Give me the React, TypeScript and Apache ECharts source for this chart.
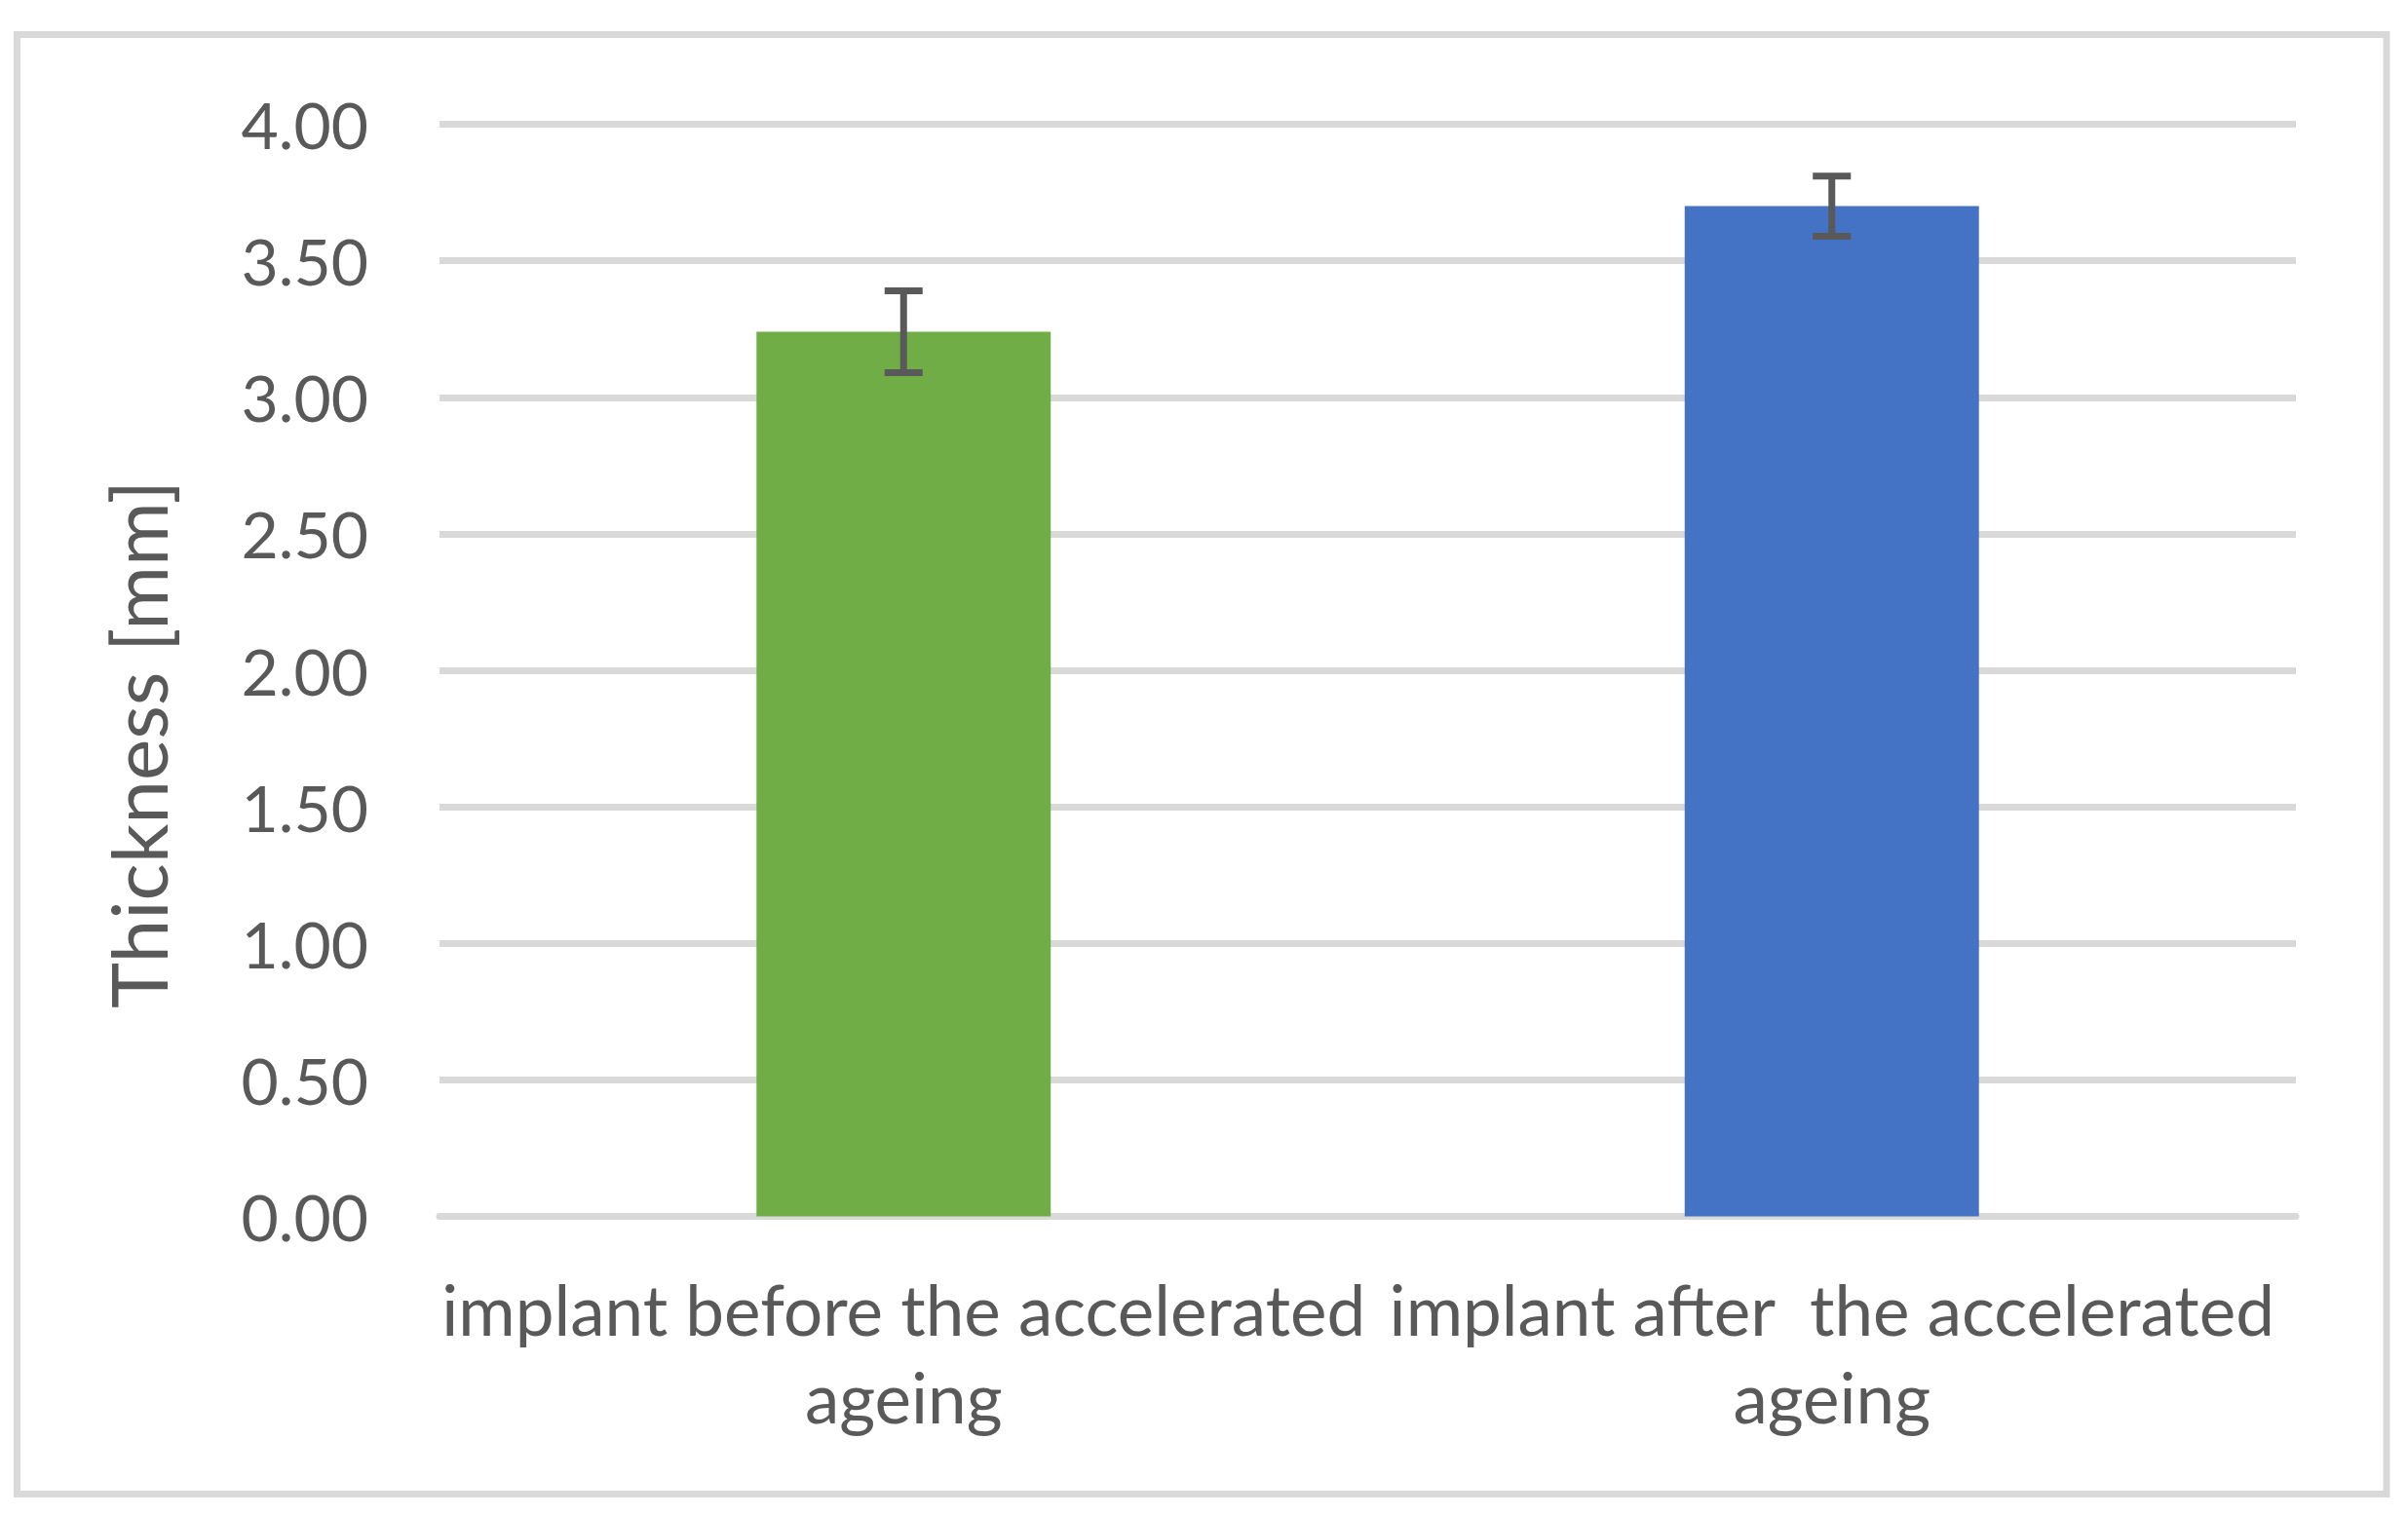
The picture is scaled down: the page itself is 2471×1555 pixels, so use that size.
import React, { useEffect, useRef } from "react";
import * as echarts from "echarts";

const categories = [
  "implant before the accelerated ageing",
  "implant after  the accelerated ageing",
];
const thicknessValues = [3.24, 3.7];
const errorValues = [0.15, 0.11];
const barColors = ["#70ad47", "#4472c4"];
const yTicks = [0, 0.5, 1, 1.5, 2, 2.5, 3, 3.5, 4];
const yAxisTitle = "Thickness [mm]";

const TEXT = "#595959";
const GRID = "#d9d9d9";
const FONT = "Lato";

export default function App() {
  const ref = useRef<HTMLDivElement>(null);
  useEffect(() => {
    if (!ref.current) return;
    const chart = echarts.init(ref.current, null, { renderer: "svg" });
    const errData = thicknessValues.map((v, i) => [i, v - errorValues[i], v + errorValues[i]]);
    chart.setOption({
      animation: false,
      backgroundColor: "#ffffff",
      textStyle: { fontFamily: FONT },
      grid: { left: 451, right: 115, top: 127.5, bottom: 306.5, containLabel: false },
      graphic: [
        {
          type: "rect",
          shape: { x: 17.5, y: 35.5, width: 2431.5, height: 1498 },
          style: { fill: "none", stroke: GRID, lineWidth: 7 },
          silent: true,
        },
        {
          type: "text",
          x: 141,
          y: 764,
          rotation: Math.PI / 2,
          style: {
            text: yAxisTitle,
            fill: TEXT,
            font: `80px ${FONT}`,
            align: "center",
            verticalAlign: "middle",
          },
        },
      ],
      xAxis: {
        type: "category",
        data: categories,
        axisLine: { show: true, lineStyle: { color: GRID, width: 7 } },
        axisTick: { show: false },
        axisLabel: {
          color: TEXT,
          fontSize: 71,
          fontFamily: FONT,
          lineHeight: 90,
          margin: 50,
          interval: 0,
          formatter: (s: string) => s.replace(/ ageing$/, "\nageing"),
        },
      },
      yAxis: {
        type: "value",
        min: yTicks[0],
        max: yTicks[yTicks.length - 1],
        interval: 0.5,
        axisLine: { show: false },
        axisTick: { show: false },
        splitLine: { lineStyle: { color: GRID, width: 7 } },
        axisLabel: {
          color: TEXT,
          fontSize: 66,
          fontFamily: FONT,
          margin: 73,
          formatter: (v: number) => v.toFixed(2),
        },
      },
      series: [
        {
          type: "bar",
          barWidth: "31.7%",
          data: thicknessValues.map((v, i) => ({ value: v, itemStyle: { color: barColors[i] } })),
          z: 2,
        },
        {
          type: "custom",
          z: 3,
          data: errData,
          renderItem: (params: any, api: any) => {
            const x = api.value(0);
            const lo = api.coord([x, api.value(1)]);
            const hi = api.coord([x, api.value(2)]);
            const hw = 19.5;
            const style = { stroke: TEXT, lineWidth: 7, fill: "none" };
            return {
              type: "group",
              children: [
                { type: "line", shape: { x1: hi[0], y1: hi[1], x2: lo[0], y2: lo[1] }, style },
                { type: "line", shape: { x1: hi[0] - hw, y1: hi[1], x2: hi[0] + hw, y2: hi[1] }, style },
                { type: "line", shape: { x1: lo[0] - hw, y1: lo[1], x2: lo[0] + hw, y2: lo[1] }, style },
              ],
            };
          },
        },
      ],
    });
    return () => chart.dispose();
  }, []);
  return (
    <div
      ref={ref}
      style={{ position: "fixed", left: 0, top: 0, width: 2471, height: 1555, background: "#fff" }}
    />
  );
}
